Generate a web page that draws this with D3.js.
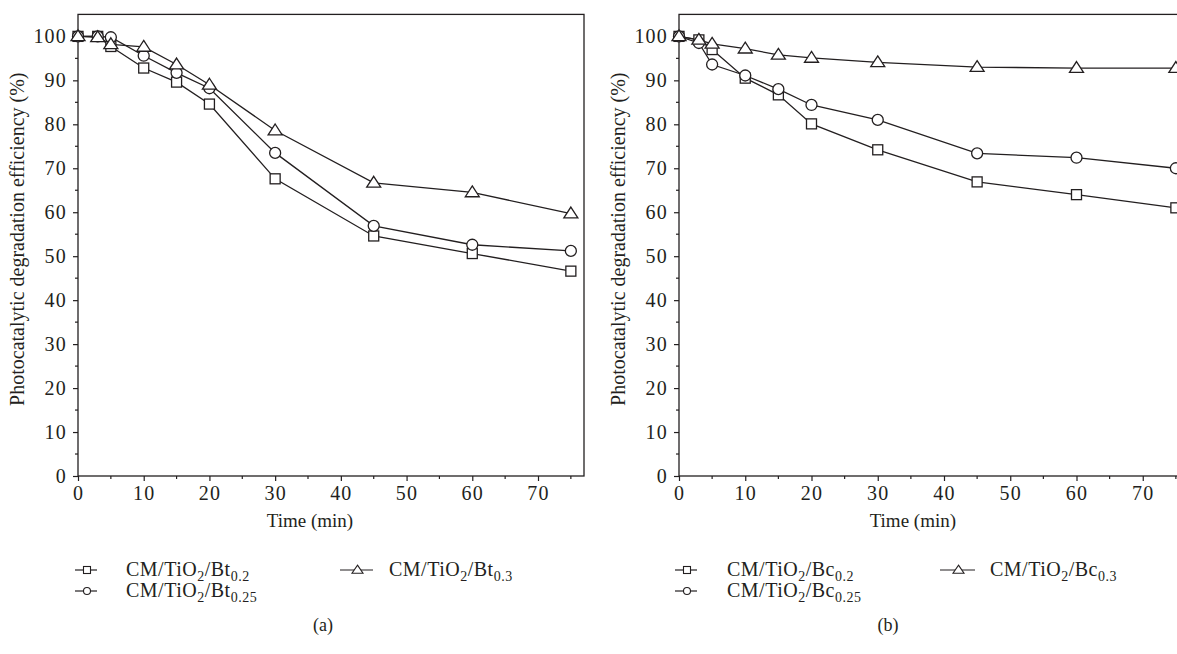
<!DOCTYPE html>
<html>
<head>
<meta charset="utf-8">
<script src="https://cdn.jsdelivr.net/npm/d3@7"></script>
<style>
  body { margin: 0; background: #fff; }
  svg { display: block; }
  text { font-family: 'Liberation Serif', 'Times New Roman', serif; }
</style>
</head>
<body>
<svg id="chart" width="1177" height="654"></svg>
<script>
'use strict';

// time points (min)
var times = [0, 3, 5, 10, 15, 20, 30, 45, 60, 75];

// panel (a) Bt samples
var btSquare   = [100, 100, 97.7, 92.8, 89.6, 84.6, 67.6, 54.6, 50.6, 46.6];
var btCircle   = [100, 100, 99.8, 95.6, 91.7, 88.2, 73.5, 56.9, 52.6, 51.2];
var btTriangle = [100, 99.8, 98.2, 97.6, 93.6, 89.0, 78.6, 66.7, 64.5, 59.7];

// panel (b) Bc samples
var bcSquare   = [100, 99.2, 97.0, 90.5, 86.7, 80.1, 74.2, 66.9, 64.0, 61.0];
var bcCircle   = [100, 98.5, 93.6, 91.1, 88.0, 84.4, 81.0, 73.4, 72.4, 70.0];
var bcTriangle = [100, 99.2, 98.3, 97.2, 95.8, 95.1, 94.1, 93.0, 92.8, 92.8];

var yTicks = [0, 10, 20, 30, 40, 50, 60, 70, 80, 90, 100];
var xTicks = [0, 10, 20, 30, 40, 50, 60, 70];

var panels = [
  {
    tag: '(a)', tagX: 323, sample: 'Bt', xMax: 77, left: 78, right: 584,
    series: [
      {shape: 'square', values: btSquare, sub: '0.2'},
      {shape: 'circle', values: btCircle, sub: '0.25'},
      {shape: 'triangle', values: btTriangle, sub: '0.3'}
    ],
    legend: {x1: 75, x2: 97, textX: 126, x3: 340, x4: 373, textX2: 389}
  },
  {
    tag: '(b)', tagX: 888, sample: 'Bc', xMax: 80, left: 679, right: 1209,
    series: [
      {shape: 'square', values: bcSquare, sub: '0.2'},
      {shape: 'circle', values: bcCircle, sub: '0.25'},
      {shape: 'triangle', values: bcTriangle, sub: '0.3'}
    ],
    legend: {x1: 675, x2: 697, textX: 727, x3: 940, x4: 975, textX2: 990}
  }
];

var plotTop = 14.4, plotBottom = 476;
var ink = '#231f20';
var serif = 'Liberation Serif, Times New Roman, serif';
var svg = d3.select('#chart');

function marker(g, shape, cx, cy, s){
  if(shape === 'square'){
    g.append('rect')
      .attr('x', cx - s / 2).attr('y', cy - s / 2)
      .attr('width', s).attr('height', s);
  } else if(shape === 'circle'){
    g.append('circle')
      .attr('cx', cx).attr('cy', cy).attr('r', s / 2);
  } else {
    var h = s * 0.9;
    g.append('path')
      .attr('d', 'M' + cx + ',' + (cy - h * 0.6) +
                 'L' + (cx + s / 2 + 1) + ',' + (cy + h * 0.4) +
                 'L' + (cx - s / 2 - 1) + ',' + (cy + h * 0.4) + 'Z');
  }
}

function label(el, sample, sub){
  el.append('tspan').text('CM/TiO');
  el.append('tspan').attr('dy', 5).style('font-size', '14px').text('2');
  el.append('tspan').attr('dy', -5).text('/' + sample);
  el.append('tspan').attr('dy', 5).style('font-size', '14px').text(sub);
}

panels.forEach(function(p){
  var x = d3.scaleLinear().domain([0, p.xMax]).range([p.left, p.right]);
  var y = d3.scaleLinear().domain([0, 105]).range([plotBottom, plotTop]);
  var g = svg.append('g').attr('font-family', serif);

  // frame
  g.append('rect')
    .attr('x', p.left).attr('y', plotTop)
    .attr('width', p.right - p.left).attr('height', plotBottom - plotTop)
    .attr('fill', 'none').attr('stroke', ink).attr('stroke-width', 1.3);

  // minor ticks
  var xMinor = d3.range(5, p.xMax, 10);
  g.selectAll('.xminor').data(xMinor).enter().append('line')
    .attr('x1', function(d){ return x(d); }).attr('x2', function(d){ return x(d); })
    .attr('y1', plotBottom).attr('y2', plotBottom + 3)
    .attr('stroke', ink).attr('stroke-width', 1.2);
  g.selectAll('.yminor').data(d3.range(5, 105, 10)).enter().append('line')
    .attr('y1', function(d){ return y(d); }).attr('y2', function(d){ return y(d); })
    .attr('x1', p.left).attr('x2', p.left - 3)
    .attr('stroke', ink).attr('stroke-width', 1.2);

  var xAxis = g.append('g')
    .attr('transform', 'translate(0,' + plotBottom + ')')
    .call(d3.axisBottom(x).tickValues(xTicks).tickSize(5).tickPadding(5));
  var yAxis = g.append('g')
    .attr('transform', 'translate(' + p.left + ',0)')
    .call(d3.axisLeft(y).tickValues(yTicks).tickSize(5).tickPadding(6));

  [xAxis, yAxis].forEach(function(a){
    a.attr('font-family', serif).attr('font-size', null);
    a.select('.domain').remove();
    a.selectAll('line').attr('stroke', ink).attr('stroke-width', 1.2);
    a.selectAll('text')
      .attr('fill', ink)
      .style('font-family', serif)
      .style('font-size', '20px')
      .style('letter-spacing', '1.2px');
  });

  // axis titles
  g.append('text')
    .attr('x', x(35.3)).attr('y', 527)
    .attr('text-anchor', 'middle').attr('fill', ink)
    .style('font-size', '19px')
    .text('Time (min)');
  g.append('text')
    .attr('transform', 'translate(' + (p.left - 54) + ',' + ((plotTop + plotBottom) / 2 - 6) + ') rotate(-90)')
    .attr('text-anchor', 'middle').attr('fill', ink)
    .style('font-size', '20px')
    .text('Photocatalytic degradation efficiency (%)');

  // series
  var line = d3.line()
    .x(function(d, i){ return x(times[i]); })
    .y(function(d){ return y(d); });

  p.series.forEach(function(s){
    g.append('path')
      .datum(s.values)
      .attr('d', line)
      .attr('fill', 'none').attr('stroke', ink).attr('stroke-width', 1.3);
  });
  p.series.forEach(function(s){
    var mg = g.append('g').attr('fill', '#fff').attr('stroke', ink).attr('stroke-width', 1.3);
    s.values.forEach(function(v, i){
      marker(mg, s.shape, x(times[i]), y(v), s.shape === 'circle' ? 11 : (s.shape === 'square' ? 10 : 12));
    });
  });

  // legend
  var L = p.legend;
  var rows = [
    {s: p.series[0], x1: L.x1, x2: L.x2, tx: L.textX, cy: 570},
    {s: p.series[1], x1: L.x1, x2: L.x2, tx: L.textX, cy: 591},
    {s: p.series[2], x1: L.x3, x2: L.x4, tx: L.textX2, cy: 570}
  ];
  rows.forEach(function(r){
    var lg = g.append('g');
    lg.append('line')
      .attr('x1', r.x1).attr('x2', r.x2).attr('y1', r.cy).attr('y2', r.cy)
      .attr('stroke', ink).attr('stroke-width', 1.2);
    var mg = lg.append('g').attr('fill', '#fff').attr('stroke', ink).attr('stroke-width', 1.1);
    marker(mg, r.s.shape, (r.x1 + r.x2) / 2 + 1, r.cy, r.s.shape === 'triangle' ? 9 : 7);
    var t = lg.append('text')
      .attr('x', r.tx).attr('y', r.cy + 6)
      .attr('fill', ink)
      .style('font-size', '20px')
      .style('letter-spacing', '0.5px');
    label(t, p.sample, r.s.sub);
  });

  g.append('text')
    .attr('x', p.tagX).attr('y', 631)
    .attr('text-anchor', 'middle').attr('fill', ink)
    .style('font-size', '18px')
    .text(p.tag);
});
</script>
</body>
</html>
